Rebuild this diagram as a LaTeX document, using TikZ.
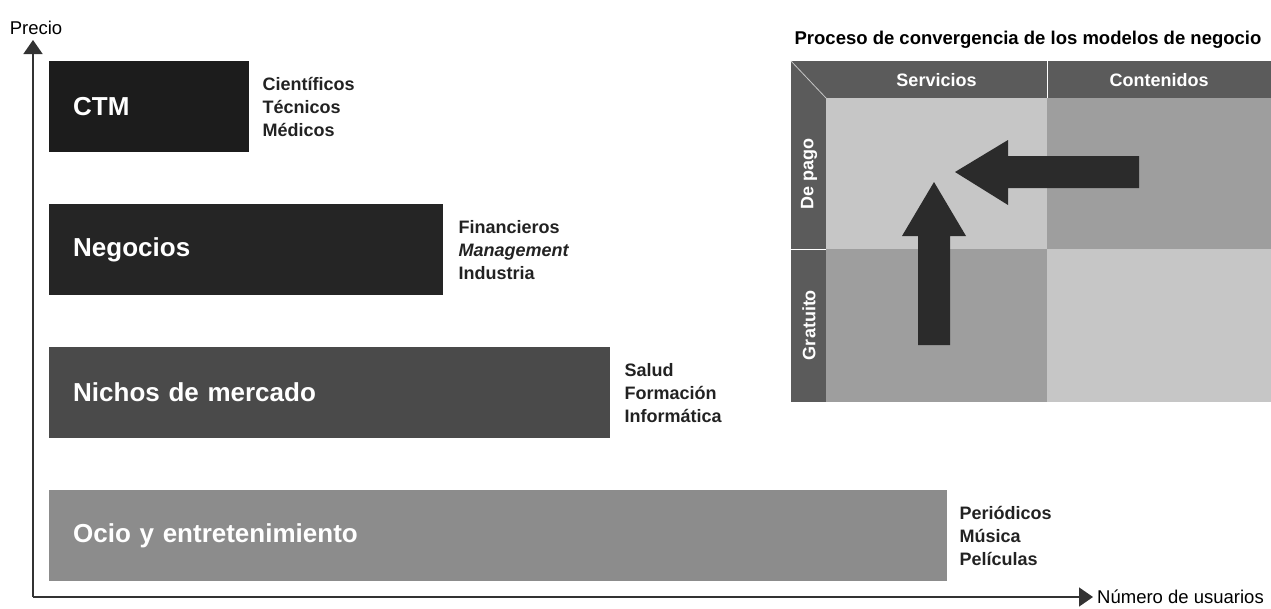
\documentclass[tikz,border=0pt]{standalone}
\usepackage{fontspec}
\setmainfont{Liberation Sans}
\usetikzlibrary{arrows.meta,positioning}
\definecolor{mktBlack}{HTML}{1C1C1C}
\definecolor{mktCoal}{HTML}{252525}
\definecolor{mktSlate}{HTML}{4A4A4A}
\definecolor{mktStone}{HTML}{8C8C8C}
\definecolor{mktInk}{HTML}{222222}
\definecolor{mktAxis}{HTML}{333333}
\definecolor{mktStrip}{HTML}{5B5B5B}
\definecolor{mktLight}{HTML}{C6C6C6}
\definecolor{mktMid}{HTML}{9E9E9E}
\definecolor{mktArrow}{HTML}{2B2B2B}
\newcommand{\mktsmall}{\fontsize{18}{23}\selectfont}
\newcommand{\mktlabel}{\fontsize{18.5}{23}\selectfont}
\newcommand{\mkttitle}{\fontsize{26}{30}\selectfont\bfseries}

\begin{document}
\begin{tikzpicture}[x=1pt,y=-1pt, every node/.style={inner sep=0pt},
    barbox/.style={anchor=north west, minimum height=91pt, inner xsep=24pt, align=left, text=white, font=\mkttitle},
    barnote/.style={align=left, text=mktInk, font=\mktsmall\bfseries},
    axisnote/.style={text=black, font=\mktlabel},
    axisline/.style={line width=1.5pt, draw=mktAxis, -{Triangle[length=14pt,width=19pt]}},
    headnote/.style={text=white, font=\mktsmall\bfseries}]
  \useasboundingbox (0,0) rectangle (1271,608);

  % price levels
  \node[barbox, fill=mktBlack, text width=152pt] (ctm) at (49,61) {CTM};
  \node[barnote, right=13pt of ctm] (ctmnote) {Científicos\\Técnicos\\Médicos};
  \node[barbox, fill=mktCoal, text width=346pt] (negocios) at (49,204) {Negocios};
  \node[barnote, right=15pt of negocios] (negociosnote) {Financieros\\\textit{Management}\\Industria};
  \node[barbox, fill=mktSlate, text width=513pt] (nichos) at (49,347) {Nichos de mercado};
  \node[barnote, right=14pt of nichos] (nichosnote) {Salud\\Formación\\Informática};
  \node[barbox, fill=mktStone, text width=850pt] (ocio) at (49,490) {Ocio y entretenimiento};
  \node[barnote, right=12pt of ocio] (ocionote) {Periódicos\\Música\\Películas};

  % axes
  \coordinate (origin) at (33,597);
  \coordinate (ytip) at (33,40);
  \coordinate (xtip) at (1093,597);
  \draw[axisline] (origin) -- (ytip);
  \draw[axisline] (origin) -- (xtip);
  \node[axisnote, above=5pt of ytip, xshift=3pt] (precio) {Precio};
  \node[axisnote, right=4pt of xtip] (usuarios) {Número de usuarios};

  % convergence matrix
  \node[font=\mktlabel\bfseries, text=black] (title) at (1028,40) {Proceso de convergencia de los modelos de negocio};
  \fill[mktStrip] (791,61) rectangle (1271,402);
  \fill[mktLight] (826,98) rectangle (1047,249);
  \fill[mktMid] (1047,98) rectangle (1271,249);
  \fill[mktMid] (826,249) rectangle (1047,402);
  \fill[mktLight] (1047,249) rectangle (1271,402);
  \draw[white, line width=1pt] (1047,61) -- (1047,98);
  \draw[white, line width=1pt] (791,249) -- (826,249);
  \draw[mktLight, line width=0.8pt] (791,61) -- (826,98);
  \node[headnote] (servicios) at (936.5,80) {Servicios};
  \node[headnote] (contenidos) at (1159,80) {Contenidos};
  \node[headnote, rotate=90] (depago) at (809,174) {De pago};
  \node[headnote, rotate=90] (gratuito) at (809,325) {Gratuito};

  % block arrows
  \fill[mktArrow] (1139,156) -- (1008,156) -- (1008,140) -- (955,172) -- (1008,205)
    -- (1008,188) -- (1139,188) -- cycle;
  \fill[mktArrow] (918,345) -- (918,236) -- (902,236) -- (934,182) -- (966,236)
    -- (950,236) -- (950,345) -- cycle;
\end{tikzpicture}
\end{document}
